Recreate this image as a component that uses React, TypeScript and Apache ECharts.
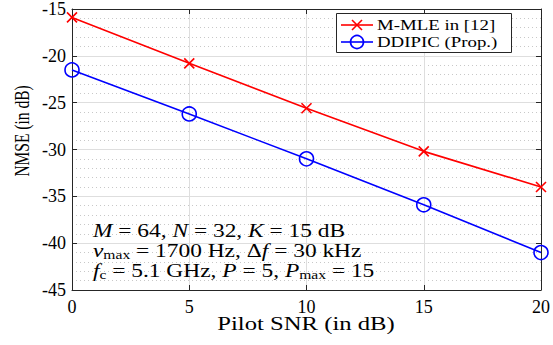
import React, { useEffect, useRef } from "react";
import * as echarts from "echarts";

const snr = [0, 5, 10, 15, 20];
const mmle = [-15.9, -20.8, -25.6, -30.2, -34.0];
const ddipic = [-21.5, -26.2, -31.0, -35.9, -41.0];
const legendNames = ["M-MLE in [12]", "DDIPIC (Prop.)"];
const xName = "Pilot SNR (in dB)";
const yName = "NMSE (in dB)";
const noteLines = [
  "{i|M}{n| = 64, }{i|N}{n| = 32, }{i|K}{n| = 15 dB}",
  "{i|ν}{s|max}{n| = 1700 Hz, Δ}{i|f}{n| = 30 kHz}",
  "{i|f}{s|c}{n| = 5.1 GHz, }{i|P}{n| = 5, }{i|P}{s|max}{n| = 15}",
];

const SERIF = "'Liberation Serif', 'Times New Roman', serif";
const AXIS = "#262626";
const RED = "#ff0000";
const BLUE = "#0000ff";
const SX = 1.3;

export default function App() {
  const ref = useRef<HTMLDivElement>(null);
  useEffect(() => {
    document.body.style.margin = "0";
    const chart = echarts.init(ref.current!, null, { renderer: "svg" });
    const tickStyle = { inside: true, length: 5, lineStyle: { color: AXIS, width: 1 } };
    const lineStyleAxis = { color: AXIS, width: 1 };
    const richNote = {
      n: { font: "normal 18px " + SERIF, fontFamily: SERIF, fontSize: 18, fill: "#000" },
      i: { font: "italic 18px " + SERIF, fontStyle: "italic", fontFamily: SERIF, fontSize: 18, fill: "#000" },
      s: { font: "normal 12px " + SERIF, fontFamily: SERIF, fontSize: 12, padding: [9, 0, 0, 0], fill: "#000" },
    };
    const noteY = [231, 251, 271];
    const option: any = {
      animation: false,
      backgroundColor: "#fff",
      grid: { left: 72, right: 12, top: 7, bottom: 55, containLabel: false },
      xAxis: [
        {
          type: "value",
          min: 0,
          max: 20,
          interval: 5,
          axisLine: { show: true, onZero: false, lineStyle: lineStyleAxis },
          axisTick: tickStyle,
          axisLabel: { color: "#000", fontFamily: SERIF, fontSize: 18, margin: 8 },
          splitLine: { show: true, lineStyle: { color: "#dedede", width: 1 } },
        },
        {
          type: "value",
          position: "top",
          min: 0,
          max: 20,
          interval: 5,
          axisLine: { show: true, onZero: false, lineStyle: lineStyleAxis },
          axisTick: tickStyle,
          axisLabel: { show: false },
          splitLine: { show: false },
        },
      ],
      yAxis: [
        {
          type: "value",
          min: -45,
          max: -15,
          interval: 5,
          axisLine: { show: true, onZero: false, lineStyle: lineStyleAxis },
          axisTick: tickStyle,
          axisLabel: { color: "#000", fontFamily: SERIF, fontSize: 18, margin: 6 },
          splitLine: { show: true, lineStyle: { color: "#dedede", width: 1 } },
          minorTick: { show: false, splitNumber: 5 },
          minorSplitLine: { show: true, lineStyle: { color: "#c8c8c8", width: 1, type: [1, 3] } },
        },
        {
          type: "value",
          position: "right",
          min: -45,
          max: -15,
          interval: 5,
          axisLine: { show: true, onZero: false, lineStyle: lineStyleAxis },
          axisTick: tickStyle,
          axisLabel: { show: false },
          splitLine: { show: false },
        },
      ],
      series: [
        {
          name: legendNames[0],
          type: "line",
          data: snr.map((x, i) => [x, mmle[i]]),
          lineStyle: { color: RED, width: 1.6 },
          symbol: "path://M0,0L10,10M10,0L0,10",
          symbolSize: 10,
          itemStyle: { color: "none", borderColor: RED, borderWidth: 1.6 },
          z: 3,
        },
        {
          name: legendNames[1],
          type: "line",
          data: snr.map((x, i) => [x, ddipic[i]]),
          lineStyle: { color: BLUE, width: 1.6 },
          symbol: "circle",
          symbolSize: 14,
          itemStyle: { color: "none", borderColor: BLUE, borderWidth: 1.6 },
          z: 3,
        },
      ],
      graphic: [
        // legend
        { type: "rect", shape: { x: 336.5, y: 13.5, width: 175, height: 39 }, style: { fill: "#fff", stroke: AXIS, lineWidth: 1 }, z: 10 },
        { type: "line", shape: { x1: 341, y1: 25, x2: 373, y2: 25 }, style: { stroke: RED, lineWidth: 1.6 }, z: 11 },
        { type: "line", shape: { x1: 352, y1: 20, x2: 362, y2: 30 }, style: { stroke: RED, lineWidth: 1.6 }, z: 11 },
        { type: "line", shape: { x1: 352, y1: 30, x2: 362, y2: 20 }, style: { stroke: RED, lineWidth: 1.6 }, z: 11 },
        { type: "line", shape: { x1: 341, y1: 42, x2: 373, y2: 42 }, style: { stroke: BLUE, lineWidth: 1.6 }, z: 11 },
        { type: "circle", shape: { cx: 357, cy: 42, r: 6.5 }, style: { fill: "none", stroke: BLUE, lineWidth: 1.6 }, z: 11 },
        { type: "text", x: 377, y: 25, scaleX: SX, style: { text: legendNames[0], fontFamily: SERIF, fontSize: 14.5, fill: "#000", align: "left", verticalAlign: "middle" }, z: 11 },
        { type: "text", x: 377, y: 42, scaleX: SX, style: { text: legendNames[1], fontFamily: SERIF, fontSize: 14.5, fill: "#000", align: "left", verticalAlign: "middle" }, z: 11 },
        // axis names
        { type: "text", x: 306, y: 324, scaleX: SX, style: { text: xName, fontFamily: SERIF, fontSize: 19, fill: "#000", align: "center", verticalAlign: "middle" }, z: 11 },
        { type: "text", x: 22, y: 131, rotation: Math.PI / 2, scaleY: SX, style: { text: yName, fontFamily: SERIF, fontSize: 15.5, fill: "#000", align: "center", verticalAlign: "middle" }, z: 11 },
        // annotation
        ...noteLines.map((t, k) => ({
          type: "text",
          x: 93,
          y: noteY[k],
          scaleX: SX,
          style: { text: t, rich: richNote, font: "normal 18px " + SERIF, fontFamily: SERIF, fontSize: 18, fill: "#000", align: "left", verticalAlign: "middle" },
          z: 11,
        })),
      ],
    };
    chart.setOption(option);
    return () => chart.dispose();
  }, []);
  return <div ref={ref} style={{ width: 553, height: 345 }} />;
}
